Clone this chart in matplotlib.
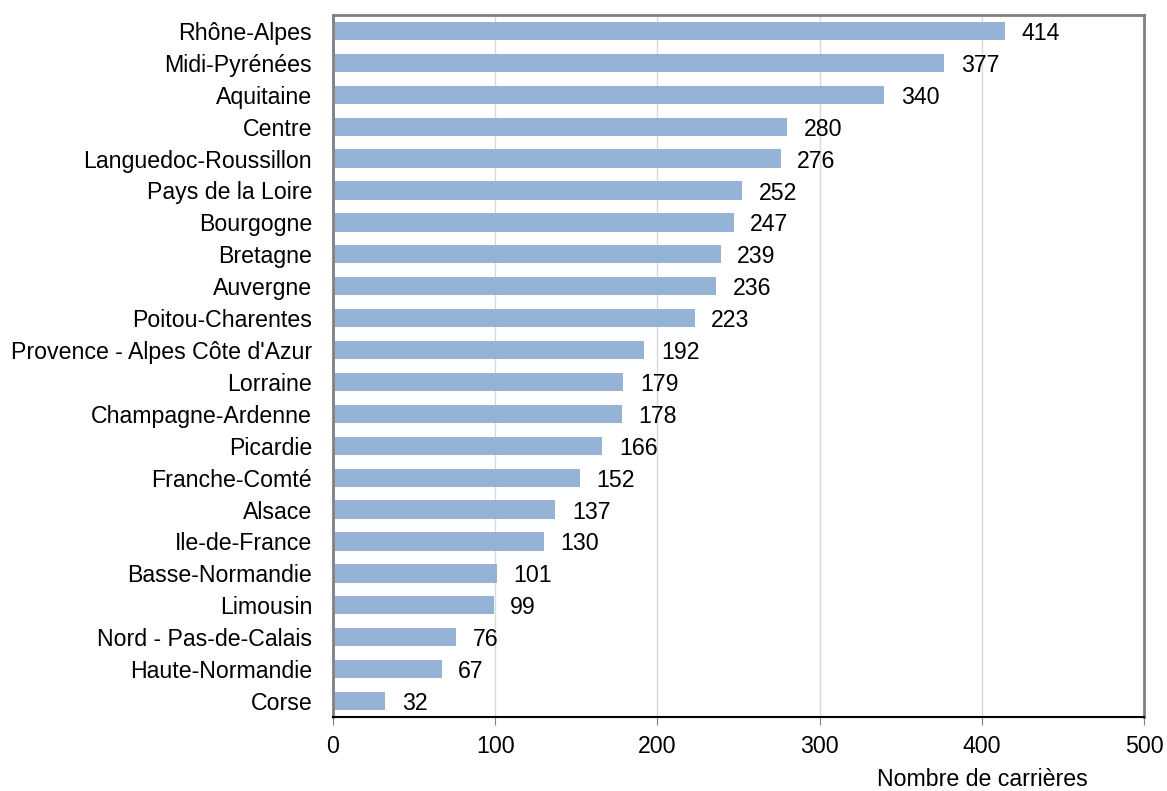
import matplotlib.pyplot as plt

plt.rcParams['font.family'] = ['Liberation Sans', 'DejaVu Sans']

regions = ['Rhône-Alpes', 'Midi-Pyrénées', 'Aquitaine', 'Centre', 'Languedoc-Roussillon',
           'Pays de la Loire', 'Bourgogne', 'Bretagne', 'Auvergne', 'Poitou-Charentes',
           "Provence - Alpes Côte d'Azur", 'Lorraine', 'Champagne-Ardenne', 'Picardie',
           'Franche-Comté', 'Alsace', 'Ile-de-France', 'Basse-Normandie', 'Limousin',
           'Nord - Pas-de-Calais', 'Haute-Normandie', 'Corse']
counts = [414, 377, 340, 280, 276, 252, 247, 239, 236, 223, 192, 179, 178, 166,
          152, 137, 130, 101, 99, 76, 67, 32]
xticks = [0, 100, 200, 300, 400, 500]

fs = 16.7

fig = plt.figure(figsize=(11.67, 7.91), dpi=100)
ax = fig.add_axes([333 / 1167, 1 - 717 / 791, (1144 - 333) / 1167, (717 - 15) / 791])

y = list(range(len(regions)))
ax.barh(y, counts, height=0.57, color='#95B3D7', zorder=2)
for yi, v in zip(y, counts):
    ax.annotate(str(v), (v, yi), xytext=(12, 0), textcoords='offset points',
                va='center_baseline', ha='left', fontsize=fs)

ax.set_ylim(len(regions) - 0.5, -0.5)
ax.set_xlim(0, 500)
ax.set_yticks(y)
ax.set_yticklabels(regions, fontsize=fs)
ax.set_xticks(xticks)
ax.set_xticklabels([str(t) for t in xticks], fontsize=fs)
ax.tick_params(axis='y', length=0, pad=15)
ax.tick_params(axis='x', length=6, color='#808080', pad=7)
ax.grid(True, axis='x', color='#d9d9d9', linewidth=1, zorder=0)

for s in ['top', 'right', 'left']:
    ax.spines[s].set_color('#808080')
    ax.spines[s].set_linewidth(2)
ax.spines['bottom'].set_color('black')
ax.spines['bottom'].set_linewidth(1.5)

fig.text(982 / 1167, 1 - 780 / 791, 'Nombre de carrières', ha='center', va='center', fontsize=fs)

fig.savefig('out.png', dpi=100)
